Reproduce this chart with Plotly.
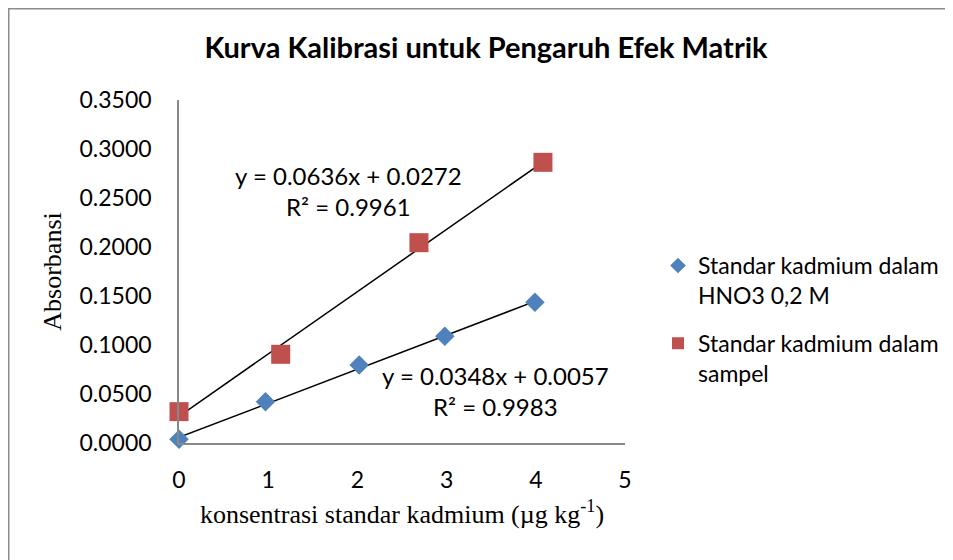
import plotly.graph_objects as go

# Data
x_hno3 = [0.0, 0.97, 2.02, 2.98, 3.99]
y_hno3 = [0.0038, 0.0420, 0.0796, 0.1090, 0.1436]
x_sampel = [0.0, 1.14, 2.69, 4.08]
y_sampel = [0.0320, 0.0905, 0.2044, 0.2864]

slope_hno3, icpt_hno3, r2_hno3 = 0.0348, 0.0057, 0.9983
slope_sampel, icpt_sampel, r2_sampel = 0.0636, 0.0272, 0.9961

name_hno3 = "Standar kadmium dalam<br>HNO3 0,2 M"
name_sampel = "Standar kadmium dalam<br>sampel"
title = "Kurva Kalibrasi untuk Pengaruh Efek Matrik"
x_title = "konsentrasi standar kadmium (µg kg<sup>-1</sup>)"
y_title = "Absorbansi"
y_ticks = [0, 0.05, 0.1, 0.15, 0.2, 0.25, 0.3, 0.35]
x_ticks = [0, 1, 2, 3, 4, 5]

BLUE = "#4F81BD"
RED = "#C0504D"
SANS = "Lato, 'Open Sans', sans-serif"
SERIF = "'Liberation Serif', 'Times New Roman', serif"
CLEAR = "rgba(0,0,0,0)"

W, H = 953, 560
L, T = 171, 92
R = W - 617
B = H - 435
pw, ph = W - L - R, H - T - B


def px(x):
    return (x - L) / pw


def py(y):
    return (H - B - y) / ph


def trend(xs, m, c):
    x0, x1 = min(xs), max(xs)
    return [x0, x1], [m * x0 + c, m * x1 + c]


fig = go.Figure()

tx, ty = trend(x_hno3, slope_hno3, icpt_hno3)
fig.add_trace(go.Scatter(x=tx, y=ty, mode="lines", line=dict(color="black", width=1.5),
                         showlegend=False, hoverinfo="skip", cliponaxis=False))
tx, ty = trend(x_sampel, slope_sampel, icpt_sampel)
fig.add_trace(go.Scatter(x=tx, y=ty, mode="lines", line=dict(color="black", width=1.5),
                         showlegend=False, hoverinfo="skip", cliponaxis=False))

fig.add_trace(go.Scatter(x=x_hno3, y=y_hno3, mode="markers", name=name_hno3, legendgroup="a",
                         cliponaxis=False,
                         marker=dict(symbol="diamond", size=15, color=BLUE)))
fig.add_trace(go.Scatter(x=x_sampel, y=y_sampel, mode="markers", name=name_sampel, legendgroup="b",
                         cliponaxis=False,
                         marker=dict(symbol="square", size=19, color=RED)))

fig.add_annotation(x=1.9, y=0.257, xref="x", yref="y", showarrow=False,
                   text=f"y = {slope_sampel:.4f}x + {icpt_sampel:.4f}<br>R² = {r2_sampel:.4f}",
                   font=dict(family=SANS, size=24, color="black"), align="center")
fig.add_annotation(x=3.55, y=0.053, xref="x", yref="y", showarrow=False,
                   text=f"y = {slope_hno3:.4f}x + {icpt_hno3:.4f}<br>R² = {r2_hno3:.4f}",
                   font=dict(family=SANS, size=24, color="black"), align="center")

# outer chart border (left and top edges visible)
fig.add_shape(type="line", xref="paper", yref="paper", x0=px(0.5), x1=px(0.5), y0=py(0), y1=py(700),
              line=dict(color="#8C8C8C", width=2))
fig.add_shape(type="line", xref="paper", yref="paper", x0=px(0), x1=px(1100), y0=py(0.5), y1=py(0.5),
              line=dict(color="#8C8C8C", width=2))

fig.update_layout(
    width=W, height=H,
    margin=dict(l=L, r=R, t=T, b=B),
    paper_bgcolor="white", plot_bgcolor="white",
    title=dict(text=f"<b>{title}</b>", x=478 / W, xanchor="center", y=1 - 40 / H, yanchor="middle",
               font=dict(family=SANS, size=29, color="black")),
    xaxis=dict(range=[0, 5], tickvals=x_ticks, showgrid=False, zeroline=False,
               showline=True, linecolor="#888888", linewidth=1.5,
               tickfont=dict(family=SANS, size=23, color="black"),
               ticks="outside", ticklen=16, tickcolor=CLEAR,
               title=dict(text=x_title, font=dict(family=SERIF, size=26, color="black"), standoff=12)),
    yaxis=dict(range=[0, 0.35], tickvals=y_ticks, tickformat=".4f", showgrid=False, zeroline=False,
               showline=True, linecolor="#888888", linewidth=1.5,
               tickfont=dict(family=SANS, size=23, color="black"),
               ticks="outside", ticklen=21, tickcolor=CLEAR,
               title=dict(text=y_title, font=dict(family=SERIF, size=26, color="black"), standoff=10)),
    legend=dict(x=px(650), y=py(236), xanchor="left", yanchor="top",
                font=dict(family=SANS, size=23, color="black"), valign="top",
                tracegroupgap=15, itemsizing="constant", bgcolor=CLEAR),
    showlegend=True,
)

fig.write_html("out.html")
